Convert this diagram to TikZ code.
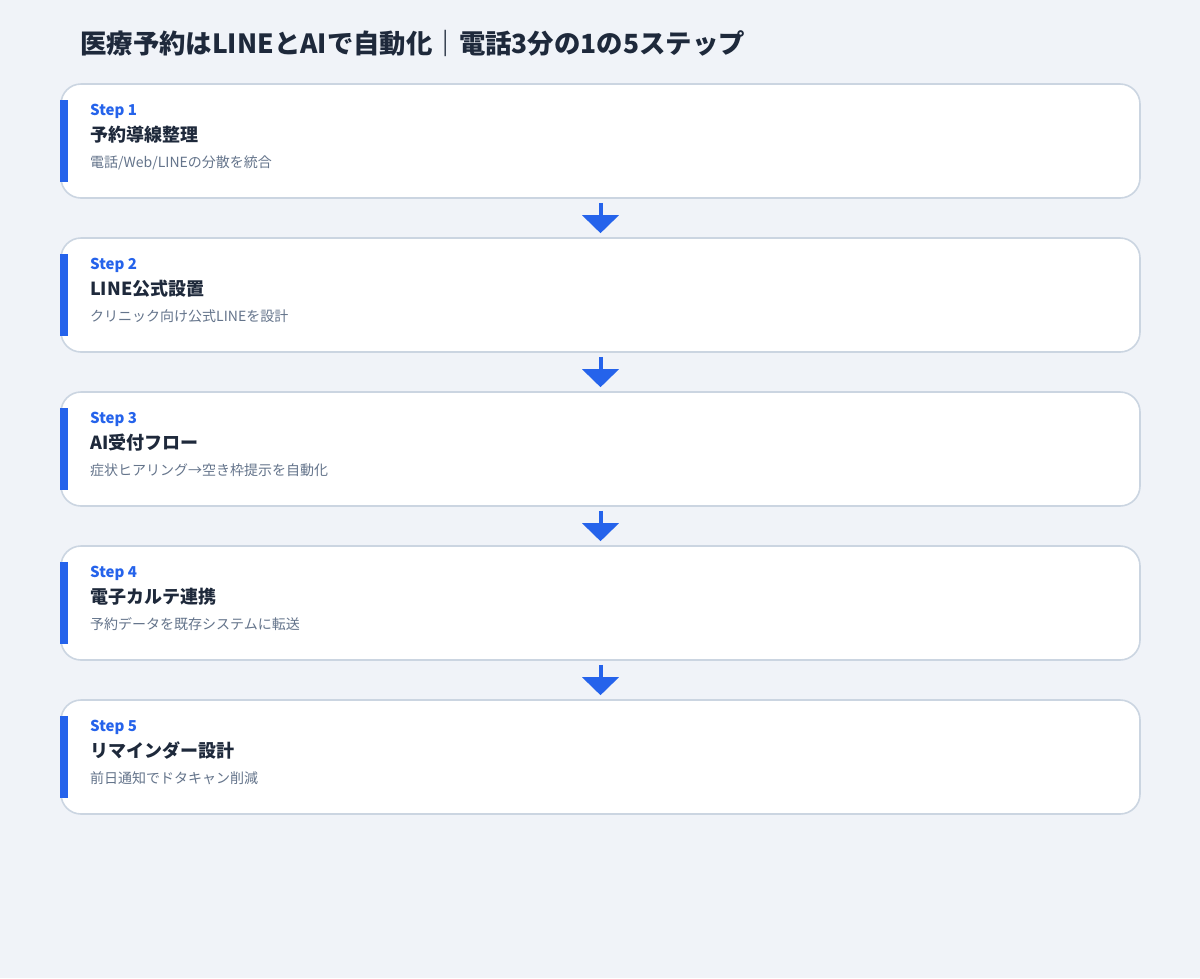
\documentclass[tikz,border=0pt]{standalone}
\usepackage{fontspec}
\setmainfont{Noto Sans CJK JP}
\usetikzlibrary{arrows.meta}
\definecolor{bgc}{HTML}{F0F3F8}
\definecolor{brd}{HTML}{CBD5E1}
\definecolor{acc}{HTML}{2563EB}
\definecolor{dark}{HTML}{1E293B}
\definecolor{grayt}{HTML}{64748B}
\tikzset{
  card/.style={draw=brd, line width=1.6pt, fill=white, rounded corners=20pt, minimum width=1079pt, minimum height=114pt, inner sep=0pt},
  accbar/.style={fill=acc, draw=none},
  steplbl/.style={anchor=base west, inner sep=0pt, text=acc, font=\fontsize{15}{18}\selectfont\bfseries},
  ttl/.style={anchor=base west, inner sep=0pt, text=dark, font=\fontsize{18}{22}\selectfont\bfseries},
  sub/.style={anchor=base west, inner sep=0pt, text=grayt, font=\fontsize{14}{17}\selectfont},
  flow/.style={draw=acc, line width=4pt, -{Triangle[width=36pt,length=18pt]}, shorten <=4pt, shorten >=4pt}
}
\begin{document}
\begin{tikzpicture}[x=1pt,y=-1pt]
\fill[bgc] (0,0) rectangle (1200,978);
\useasboundingbox (0,0) rectangle (1200,978);
\node[anchor=base west, inner sep=0pt, text=dark, font=\fontsize{26.4}{30}\selectfont\bfseries] (title) at (80,53) {医療予約はLINEとAIで自動化｜電話3分の1の5ステップ};
\foreach \i/\lab/\t/\s in {1/{Step 1}/{予約導線整理}/{電話/Web/LINEの分散を統合},
  2/{Step 2}/{LINE公式設置}/{クリニック向け公式LINEを設計},
  3/{Step 3}/{AI受付フロー}/{症状ヒアリング→空き枠提示を自動化},
  4/{Step 4}/{電子カルテ連携}/{予約データを既存システムに転送},
  5/{Step 5}/{リマインダー設計}/{前日通知でドタキャン削減}}{
  \pgfmathsetmacro{\yy}{84+154*(\i-1)}
  \node[card] (s\i) at (600.5,\yy+57) {};
  \fill[accbar] (60,\yy+16) rectangle (68,\yy+98);
  \node[steplbl] (l\i) at (90,\yy+31) {\lab};
  \node[ttl] (t\i) at (90,\yy+57.5) {\t};
  \node[sub] (d\i) at (90,\yy+83.5) {\s};
}
\foreach \a/\b in {1/2,2/3,3/4,4/5}{
  \draw[flow] (s\a.south) -- (s\b.north);
}
\end{tikzpicture}
\end{document}
